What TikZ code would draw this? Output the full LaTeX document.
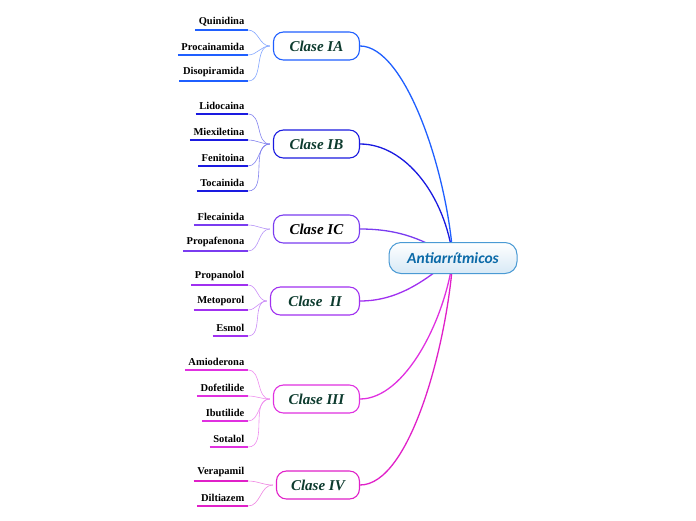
\documentclass[tikz,border=0pt]{standalone}
\usepackage{fontspec}
\setmainfont{Liberation Serif}
\newfontfamily\centerfont{Carlito}
\begin{document}
\begin{tikzpicture}[x=1pt,y=-1pt,
  classbox/.style={draw=#1,line width=1.1pt,fill=white,rounded corners=10pt,minimum width=86pt,minimum height=28pt,anchor=east,font=\fontsize{15}{15}\selectfont\bfseries\itshape,text=classtext,inner sep=2pt},
  leafnode/.style={anchor=south east,font=\fontsize{10.5}{10.5}\selectfont\bfseries,inner xsep=3.5pt,inner ysep=4pt},
  leafline/.style={draw=#1,line width=1.5pt},
  leafconn/.style={draw=#1!55,line width=0.6pt},
  mainconn/.style={draw=#1,line width=1.3pt}]
\definecolor{classtext}{HTML}{0D3B2E}
\definecolor{cIA}{HTML}{1F5FFF}
\definecolor{cIB}{HTML}{1A1AE0}
\definecolor{cIC}{HTML}{7A3CF0}
\definecolor{cII}{HTML}{A030F0}
\definecolor{cIII}{HTML}{E030E0}
\definecolor{cIV}{HTML}{E020C8}
\definecolor{centerborder}{HTML}{4A9AD4}
\definecolor{centertext}{HTML}{0B6AA8}
\useasboundingbox (0,0) rectangle (696,520);

\coordinate (cc) at (453,258);
\node[classbox=cIA] (IA) at (360,46) {Clase IA};
\node[classbox=cIB] (IB) at (360,144) {Clase IB};
\node[classbox=cIC,text=black] (IC) at (360,229) {Clase IC};
\node[classbox=cII,minimum width=89pt] (II) at (360,301) {Clase\ \ II};
\node[classbox=cIII] (III) at (360,399) {Clase III};
\node[classbox=cIV,minimum width=83pt] (IV) at (360,485) {Clase IV};

\draw[mainconn=cIA] (IA.east) .. controls (405,46) and (447,170) .. (cc);
\draw[mainconn=cIB] (IB.east) .. controls (405,144) and (445,195) .. (cc);
\draw[mainconn=cIC] (IC.east) .. controls (400,229) and (425,240) .. (cc);
\draw[mainconn=cII] (II.east) .. controls (400,301) and (428,278) .. (cc);
\draw[mainconn=cIII] (III.east) .. controls (405,399) and (445,320) .. (cc);
\draw[mainconn=cIV] (IV.east) .. controls (410,485) and (447,345) .. (cc);

\node[draw=centerborder,line width=1pt,rounded corners=12pt,top color=white,bottom color=centerborder!22,minimum width=128pt,minimum height=31pt,font=\centerfont\fontsize{15.5}{15.5}\selectfont\bfseries\itshape,text=centertext] (C) at (cc) {Antiarrítmicos};

\foreach \name/\txt/\yy/\cls/\col in {
  q/Quinidina/30/IA/cIA, p/Procainamida/55/IA/cIA, d/Disopiramida/81/IA/cIA,
  l/Lidocaina/114/IB/cIB, m/Miexiletina/140/IB/cIB, f/Fenitoina/166/IB/cIB, t/Tocainida/191/IB/cIB,
  fl/Flecainida/225/IC/cIC, pf/Propafenona/251/IC/cIC,
  pr/Propanolol/285/II/cII, me/Metoporol/310/II/cII, e/Esmol/336/II/cII,
  a/Amioderona/370/III/cIII, df/Dofetilide/396/III/cIII, ib/Ibutilide/421/III/cIII, s/Sotalol/447/III/cIII,
  v/Verapamil/481/IV/cIV, dl/Diltiazem/506/IV/cIV}{
  \node[leafnode] (\name) at (248,\yy) {\txt};
  \draw[leafline=\col] (\name.south west) -- (\name.south east);
  \draw[leafconn=\col] (\name.south east) to[out=0,in=180] ([xshift=-3pt]\cls.west);
}
\end{tikzpicture}
\end{document}
